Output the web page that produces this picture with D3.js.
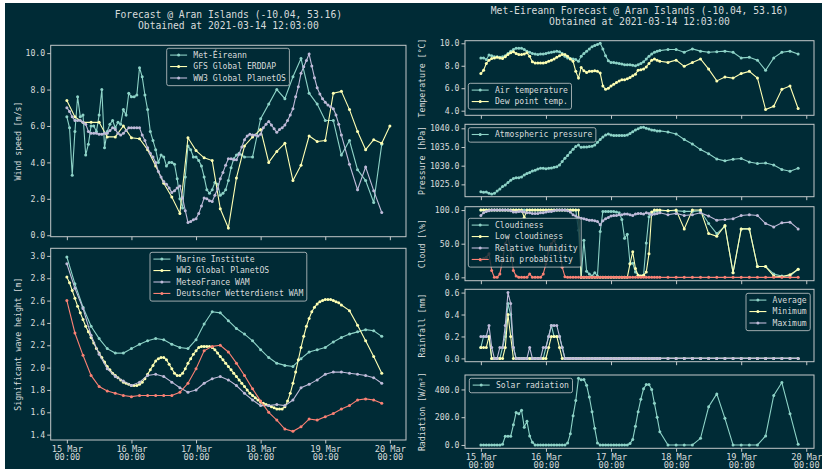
<!DOCTYPE html>
<html>
<head>
<meta charset="utf-8">
<script src="https://cdn.jsdelivr.net/npm/d3@7"></script>
<style>
  body { margin: 0; background: #fff; }
  svg { display: block; }
  text { font-family: "DejaVu Sans Mono", monospace; }
</style>
</head>
<body>
<svg id="chart" width="824" height="469"></svg>
<script>
// ---- time stamps (hours after 15 Mar 00:00 UTC) ----
const metHours = d3.range(0, 67).concat(d3.range(69, 118, 3));   // Met Eireann: hourly, then 3-hourly
const ww3Hours = d3.range(0, 103).concat(d3.range(105, 118, 3)); // WW3 PlanetOS
const gfsHours = d3.range(0, 121, 3);                            // GFS ERDDAP
const wamHours = d3.range(0, 118, 3);                            // wave models, 3-hourly
const dayLabels = ["15 Mar", "16 Mar", "17 Mar", "18 Mar", "19 Mar", "20 Mar"];

// ---- wind speed [m/s] ----
const metWind = [6.5,5.9,3.3,5.7,7.6,6.5,6.6,4.4,5.0,6.0, 6.0,5.7,6.6,8.0,4.8,5.7,6.1,6.3,5.9,6.2,
  6.1,6.9,6.6,7.8,7.6,7.6,7.7,9.2,8.7,7.7, 6.9,5.7,5.2,4.7,4.0,4.4,4.3,3.8,4.0,4.0,
  3.9,3.1,2.0,1.5,3.2,4.9,4.7,4.3,4.3,4.1, 3.8,3.2,2.5,2.3,2.5,2.9,2.8,2.2,2.3,2.5,
  3.0,3.7,4.2,4.4,4.5,4.4,4.3,
  4.3,6.4,7.2,8.0,7.5,8.7,9.7,7.8,7.2,6.3,6.3,4.4,5.2,3.6,3.0,1.8,5.0];
const gfsWind = [7.4,6.5,6.2,6.2,6.2,5.4,5.4,6.0,5.35,5.3, 4.7,3.8,2.85,2.1,1.2,5.35,4.65,4.25,4.1,1.45,
  0.4,3.15,4.9,5.4,5.8,4.0,4.6,5.05,3.0,3.85, 5.45,5.15,5.2,7.8,7.9,6.9,5.7,4.7,5.25,5.05, 6.0];
const ww3Wind = [7.0,6.8,6.5,6.3,6.3,6.3,6.2,6.1,5.7,5.6, 5.6,5.6,5.55,5.55,5.6,5.6,5.75,5.9,5.8,5.6,
  5.5,5.6,5.75,5.9,5.9,5.9,5.9,5.9,5.5,5.2, 4.8,4.5,4.3,4.0,3.5,3.2,2.95,2.8,2.6,2.35,
  2.45,2.6,2.7,2.05,1.35,0.7,0.75,0.85,0.9,1.2, 1.6,2.05,2.0,1.9,1.85,2.2,2.55,3.1,3.45,3.85,
  4.2,4.2,4.15,4.15,4.45,4.85,5.25,5.45,5.55,5.5, 5.5,5.45,5.55,5.9,6.1,6.25,6.05,5.85,5.65,5.8,
  5.9,6.05,6.3,6.6,6.95,7.6,8.15,8.9,9.25,9.6, 9.95,9.3,8.65,8.1,7.75,7.5,7.3,7.15,7.05,6.95,
  6.6,6.1,5.5, 3.9,2.5,3.75,2.45,1.25];

// ---- significant wave height [m] ----
const miWave = [2.99,2.75,2.54,2.37,2.26,2.17,2.13,2.13,2.17,2.21, 2.24,2.26,2.25,2.21,2.18,2.17,2.25,2.39,2.5,2.49,
  2.42,2.35,2.3,2.24,2.16,2.09,2.04,2.02,2.01,2.08, 2.14,2.16,2.18,2.23,2.27,2.3,2.32,2.34,2.33,2.28];
const ww3Wave = [2.81,2.76,2.69,2.62,2.55,2.49,2.43,2.37,2.32,2.27, 2.22,2.17,2.13,2.09,2.05,2.01,1.98,1.95,1.93,1.91,
  1.89,1.87,1.86,1.85,1.84,1.84,1.84,1.85,1.87,1.9, 1.94,1.98,2.02,2.06,2.08,2.09,2.09,2.07,2.03,1.99,
  1.95,1.93,1.93,1.95,1.99,2.04,2.08,2.12,2.15,2.18, 2.19,2.19,2.19,2.19,2.18,2.16,2.13,2.1,2.07,2.04,
  2.01,1.98,1.95,1.92,1.89,1.86,1.83,1.8,1.77,1.75, 1.73,1.71,1.69,1.68,1.67,1.66,1.65,1.64,1.63,1.63,
  1.63,1.65,1.7,1.77,1.86,1.96,2.07,2.18,2.28,2.37, 2.44,2.5,2.54,2.57,2.59,2.6,2.61,2.61,2.61,2.6,
  2.59,2.58,2.56, 2.51,2.38,2.24,2.1,1.95];
const mfWave = [2.93,2.71,2.53,2.29,2.12,1.99,1.92,1.88,1.84,1.87, 1.93,1.94,1.92,1.87,1.82,1.78,1.8,1.86,1.9,1.92,
  1.89,1.84,1.77,1.71,1.66,1.66,1.67,1.66,1.71,1.82, 1.85,1.89,1.94,1.96,1.96,1.95,1.94,1.93,1.91,1.86];
const dwdWave = [2.6,2.31,2.11,1.93,1.83,1.79,1.77,1.75,1.74,1.75, 1.75,1.75,1.75,1.75,1.78,1.86,1.99,2.15,2.19,2.2,
  2.14,2.04,1.93,1.81,1.7,1.6,1.53,1.45,1.43,1.47, 1.54,1.53,1.56,1.59,1.63,1.66,1.71,1.72,1.71,1.68];

// ---- Met Eireann point forecast ----
const airTemp = [8.7,8.7,8.55,8.95,8.9,8.8,8.8,8.75,8.8,8.9, 9.1,9.3,9.45,9.55,9.55,9.55,9.45,9.3,9.2,9.1,
  9.05,9.0,9.05,9.05,9.1,9.15,9.2,9.25,9.3,9.25, 9.1,8.85,8.7,8.65,8.6,8.55,8.4,8.85,9.1,9.3,
  9.5,9.7,9.8,9.9,10.0,9.5,8.9,8.45,8.3,8.3, 8.25,8.2,8.15,8.1,8.1,8.1,8.05,8.0,8.1,8.2,
  8.35,8.6,8.85,9.05,9.2,9.3,9.35,
  9.45,9.45,9.2,9.5,9.3,9.2,9.25,9.3,9.2,8.7,8.75,8.5,7.6,8.7,9.2,9.3,9.05];
const dewPoint = [7.3,7.6,8.2,8.5,8.65,8.7,8.75,8.7,8.65,8.8, 9.0,9.15,9.25,9.1,9.0,9.0,9.05,9.15,8.85,8.35,
  8.25,8.25,8.25,8.25,8.3,8.4,8.5,8.6,8.75,8.9, 9.0,9.0,8.85,8.6,8.4,7.5,6.9,7.85,7.55,7.4,
  7.5,7.5,7.55,7.5,7.35,6.2,5.9,6.0,6.2,6.35, 6.5,6.65,6.75,6.75,6.85,6.95,7.1,7.25,7.6,7.65,
  7.7,7.9,8.2,8.5,8.6,8.5,8.4,
  8.3,8.5,7.95,8.3,8.6,7.7,6.65,7.0,6.9,7.3,7.5,6.9,4.1,4.4,5.9,6.2,4.2];
const pressure = [1023.0,1022.9,1022.95,1022.6,1022.4,1022.6,1023.2,1023.75,1024.4,1024.8,
  1025.5,1026.1,1026.6,1026.8,1026.8,1027.0,1027.5,1027.9,1028.2,1028.6,
  1028.8,1029.1,1029.3,1029.3,1029.2,1029.3,1029.4,1029.55,1029.7,1030.2,
  1031.1,1032.0,1032.7,1033.6,1034.4,1035.1,1035.5,1034.9,1035.0,1035.0,
  1035.1,1035.2,1035.5,1036.25,1037.0,1037.7,1038.2,1038.5,1038.2,1038.1,
  1038.1,1038.1,1038.1,1038.1,1038.2,1038.6,1039.1,1039.55,1039.9,1040.2,
  1040.3,1040.0,1039.8,1039.55,1039.5,1039.3,1039.3,
  1039.0,1038.5,1037.0,1035.8,1034.3,1033.2,1031.8,1031.3,1031.7,1031.9,1031.0,1030.6,1030.7,1030.2,1029.0,1028.5,1029.3];
const cloudiness = [100,100,100,100,100,100,100,100,100,100, 100,100,100,100,100,100,100,100,100,100,
  100,100,100,100,100,100,100,100,100,100, 100,100,100,100,100,100,70,0,55,9,
  5,2,7,2,68,98,98,98,98,98, 97,96,86,58,64,21,21,8,3,2,
  3,51,90,96,98,99,99,
  99,99,98,98,99,80,65,76,7,72,72,16,16,5,2,2,12];
const lowCloud = [100,100,100,100,100,100,100,100,100,100, 100,100,100,100,100,100,89,100,100,100,
  100,100,100,100,100,100,100,100,100,100, 100,100,100,100,100,100,100,0,0,0,
  0,0,0,0,0,0,0,0,0,0, 0,0,0,0,0,20,38,13,3,2,
  3,8,35,97,100,100,100,
  99,100,72,100,100,65,61,77,7,72,72,16,16,2,1,4,12];
const humidity = [92,96,98,99,100,100,100,100,100,100, 100,99,97,97,98,98,97,96,96,95,
  95,95,96,96,97,98,98,99,100,100, 100,100,99,97,93,91,89,88,87,86,
  85,85,84,83,78,84,87,89,91,92, 92,93,93,94,94,93,92,94,95,95,
  94,96,95,93,94,95,96,
  93,95,92,93,96,91,85,86,87,92,93,92,80,75,81,82,72];
const rainProb = [25,28,30,35,10,0,0,5,25,50, 60,40,10,2,0,0,0,0,5,0,
  0,0,0,5,20,40,50,55,45,40, 15,1,0,0,0,0,0,0,0,0,
  0,0,0,0,0,0,0,0,0,0, 0,0,0,0,0,0,0,0,0,0,
  0,0,0,0,0,0,0,
  0,0,0,0,0,0,0,0,0,0,0,0,0,0,0,0,0];
const rainAvg = [0.1,0.2,0.2,0.2,0,0,0,0,0.1,0.2, 0.5,0.4,0.1,0,0,0,0,0,0,0,
  0,0,0,0,0.1,0.2,0.3,0.2,0.2,0.2, 0.1,0,0,0,0,0,0,0,0,0,
  0,0,0,0,0,0,0,0,0,0, 0,0,0,0,0,0,0,0,0,0,
  0,0,0,0,0,0,0,
  0,0,0,0,0,0,0,0,0,0,0,0,0,0,0,0,0];
const rainMin = [0.1,0.1,0.1,0.2,0,0,0,0,0,0.1, 0.4,0.2,0,0,0,0,0,0,0,0,
  0,0,0,0,0,0.1,0.2,0.2,0.2,0.1, 0,0,0,0,0,0,0,0,0,0,
  0,0,0,0,0,0,0,0,0,0, 0,0,0,0,0,0,0,0,0,0,
  0,0,0,0,0,0,0,
  0,0,0,0,0,0,0,0,0,0,0,0,0,0,0,0,0];
const rainMax = [0.2,0.2,0.2,0.3,0.1,0,0,0.1,0.1,0.3, 0.6,0.5,0.1,0,0,0,0,0,0.1,0,
  0,0,0,0.1,0.1,0.2,0.3,0.3,0.3,0.2, 0.1,0,0,0,0,0,0,0,0,0,
  0,0,0,0,0,0,0,0,0,0, 0,0,0,0,0,0,0,0,0,0,
  0,0,0,0,0,0,0,
  0,0,0,0,0,0,0,0,0,0,0,0,0,0,0,0,0];
const radiation = [0,0,0,0,0,0,0,0,5,63, 63,63,145,233,225,250,128,170,65,19,
  0,0,0,0,0,0,0,0,0,0, 0,0,15,80,210,320,480,470,472,430,
  345,240,120,15,0,0,0,0,0,0, 0,0,0,0,0,10,40,135,240,330,
  405,435,435,400,300,200,95,
  0,0,0,0,48,275,368,192,0,0,0,0,65,357,450,225,5];

// ---- style ----
const BG = "#002b36", FG = "#d9dcdc", EDGE = "#c3c9ca";
const teal = "#8dd3c7", yellow = "#feffb3", purple = "#bfbbd9", red = "#fa8174";
const t0 = Date.UTC(2021, 2, 15);
const toDate = h => new Date(t0 + h * 3600e3);
const dayTicks = d3.range(0, 121, 24).map(toDate);

const svg = d3.select("#chart");
svg.append("rect").attr("x", 5).attr("y", 3).attr("width", 817).attr("height", 466).attr("fill", BG);

let clipCount = 0;

function drawPanel(p) {
  const x = d3.scaleUtc().domain(p.xDom.map(toDate)).range([p.left, p.right]);
  const y = d3.scaleLinear().domain(p.yDom).range([p.bottom, p.top]);
  const g = svg.append("g");
  const clipId = "clip" + (clipCount++);
  g.append("clipPath").attr("id", clipId).append("rect")
    .attr("x", p.left).attr("y", p.top)
    .attr("width", p.right - p.left).attr("height", p.bottom - p.top);

  // x axis
  const xa = g.append("g").attr("transform", `translate(0,${p.bottom})`)
    .call(d3.axisBottom(x).tickValues(dayTicks).tickSizeInner(3.5).tickSizeOuter(0).tickPadding(2).tickFormat(""));
  xa.select(".domain").remove();
  xa.selectAll(".tick line").attr("stroke", EDGE);
  if (p.xLabels) {
    xa.selectAll(".tick text").each(function (d, i) {
      const t = d3.select(this).attr("dy", null).attr("y", 11.5)
        .attr("fill", FG).attr("font-size", 8.6).attr("font-family", "DejaVu Sans Mono");
      t.append("tspan").attr("x", 0).text(dayLabels[i]);
      t.append("tspan").attr("x", 0).attr("dy", 8.4).text("00:00");
    });
  }

  // y axis
  const ya = g.append("g").attr("transform", `translate(${p.left},0)`)
    .call(d3.axisLeft(y).tickValues(p.yTicks).tickSizeInner(3.5).tickSizeOuter(0).tickPadding(2).tickFormat(d3.format(".1f")));
  ya.select(".domain").remove();
  ya.selectAll(".tick line").attr("stroke", EDGE);
  ya.selectAll(".tick text").attr("fill", FG).attr("font-size", 8.2).attr("font-family", "DejaVu Sans Mono");

  // frame
  g.append("rect").attr("x", p.left).attr("y", p.top)
    .attr("width", p.right - p.left).attr("height", p.bottom - p.top)
    .attr("fill", "none").attr("stroke", EDGE).attr("stroke-width", 1);

  // y label
  g.append("text")
    .attr("transform", `translate(${p.labelX},${(p.top + p.bottom) / 2}) rotate(-90)`)
    .attr("text-anchor", "middle").attr("fill", FG).attr("font-size", 8.2)
    .text(p.yLabel);

  // series
  const plot = g.append("g").attr("clip-path", `url(#${clipId})`);
  const line = d3.line().x(d => x(d.t)).y(d => y(d.v));
  p.series.forEach(s => {
    const pts = s.hours.map((h, i) => ({ t: toDate(h), v: s.values[i] }));
    plot.append("path").datum(pts).attr("d", line)
      .attr("fill", "none").attr("stroke", s.color).attr("stroke-width", 1.1);
    plot.append("g").selectAll("circle").data(pts).join("circle")
      .attr("cx", d => x(d.t)).attr("cy", d => y(d.v)).attr("r", 1.5).attr("fill", s.color);
  });

  // legend
  const L = p.legend, step = 11.45;
  const lg = g.append("g");
  const box = lg.append("rect").attr("x", L.x).attr("y", L.y).attr("rx", 2)
    .attr("height", p.series.length * step + 3)
    .attr("fill", BG).attr("fill-opacity", 0.8)
    .attr("stroke", EDGE).attr("stroke-opacity", 0.8).attr("stroke-width", 1);
  let maxW = 0;
  p.series.forEach((s, i) => {
    const cy = L.y + 6.8 + i * step;
    lg.append("line").attr("x1", L.x + 3.4).attr("x2", L.x + 20.4).attr("y1", cy).attr("y2", cy)
      .attr("stroke", s.color).attr("stroke-width", 1.1);
    lg.append("circle").attr("cx", L.x + 11.9).attr("cy", cy).attr("r", 1.5).attr("fill", s.color);
    const tx = lg.append("text").attr("x", L.x + 26.6).attr("y", cy + 2.9)
      .attr("fill", FG).attr("font-size", 8.1).text(s.name);
    maxW = Math.max(maxW, tx.node().getComputedTextLength());
  });
  box.attr("width", 26.6 + maxW + 3.5);
}

function title(cx, y1, line1) {
  svg.append("text").attr("x", cx).attr("y", y1).attr("text-anchor", "middle")
    .attr("fill", FG).attr("font-size", 9.7).text(line1);
  svg.append("text").attr("x", cx).attr("y", y1 + 10.7).attr("text-anchor", "middle")
    .attr("fill", FG).attr("font-size", 9.7).text("Obtained at 2021-03-14 12:03:00");
}

// ---- left column ----
const LX = { left: 50.7, right: 406, xDom: [-6, 126], labelX: 20.5 };
title(228.4, 18.4, "Forecast @ Aran Islands (-10.04, 53.16)");

drawPanel({ ...LX, top: 45.3, bottom: 236.7, yDom: [-0.08, 10.43], yTicks: [0, 2, 4, 6, 8, 10],
  yLabel: "Wind speed [m/s]", legend: { x: 166.7, y: 48.3 },
  series: [
    { name: "Met-Éireann", hours: metHours, values: metWind, color: teal },
    { name: "GFS Global ERDDAP", hours: gfsHours, values: gfsWind, color: yellow },
    { name: "WW3 Global PlanetOS", hours: ww3Hours, values: ww3Wind, color: purple }
  ] });

drawPanel({ ...LX, top: 248.3, bottom: 440, yDom: [1.352, 3.068], yTicks: [1.4, 1.6, 1.8, 2.0, 2.2, 2.4, 2.6, 2.8, 3.0],
  yLabel: "Significant wave height [m]", legend: { x: 150, y: 252.3 }, xLabels: true,
  series: [
    { name: "Marine Institute", hours: wamHours, values: miWave, color: teal },
    { name: "WW3 Global PlanetOS", hours: ww3Hours, values: ww3Wave, color: yellow },
    { name: "MeteoFrance WAM", hours: wamHours, values: mfWave, color: purple },
    { name: "Deutscher Wetterdienst WAM", hours: wamHours, values: dwdWave, color: red }
  ] });

// ---- right column ----
const RX = { left: 465, right: 814, xDom: [-5.85, 122.85], labelX: 425 };
title(639.5, 14.4, "Met-Eireann Forecast @ Aran Islands (-10.04, 53.16)");

drawPanel({ ...RX, top: 40.7, bottom: 115.3, yDom: [3.59, 10.23], yTicks: [4, 6, 8, 10],
  yLabel: "Temperature [°C]", legend: { x: 468.3, y: 83.3 },
  series: [
    { name: "Air temperature", hours: metHours, values: airTemp, color: teal },
    { name: "Dew point temp.", hours: metHours, values: dewPoint, color: yellow }
  ] });

drawPanel({ ...RX, top: 124.3, bottom: 196.7, yDom: [1021.7, 1041.07], yTicks: [1025, 1030, 1035, 1040],
  yLabel: "Pressure [hPa]", legend: { x: 468.3, y: 127.7 },
  series: [
    { name: "Atmospheric pressure", hours: metHours, values: pressure, color: teal }
  ] });

drawPanel({ ...RX, top: 206.7, bottom: 280.7, yDom: [-5, 105], yTicks: [0, 50, 100],
  yLabel: "Cloud [\\%]", legend: { x: 468.3, y: 218.3 },
  series: [
    { name: "Cloudiness", hours: metHours, values: cloudiness, color: teal },
    { name: "Low cloudiness", hours: metHours, values: lowCloud, color: yellow },
    { name: "Relative humidity", hours: metHours, values: humidity, color: purple },
    { name: "Rain probability", hours: metHours, values: rainProb, color: red }
  ] });

drawPanel({ ...RX, top: 289.3, bottom: 361.7, yDom: [-0.03, 0.63], yTicks: [0, 0.2, 0.4, 0.6],
  yLabel: "Rainfall [mm]", legend: { x: 746, y: 293.3 },
  series: [
    { name: "Average", hours: metHours, values: rainAvg, color: teal },
    { name: "Minimum", hours: metHours, values: rainMin, color: yellow },
    { name: "Maximum", hours: metHours, values: rainMax, color: purple }
  ] });

drawPanel({ ...RX, top: 375, bottom: 448.3, yDom: [-24, 504], yTicks: [0, 200, 400],
  yLabel: "Radiation [W/m²]", legend: { x: 469.3, y: 378.3 }, xLabels: true,
  series: [
    { name: "Solar radiation", hours: metHours, values: radiation, color: teal }
  ] });
</script>
</body>
</html>
